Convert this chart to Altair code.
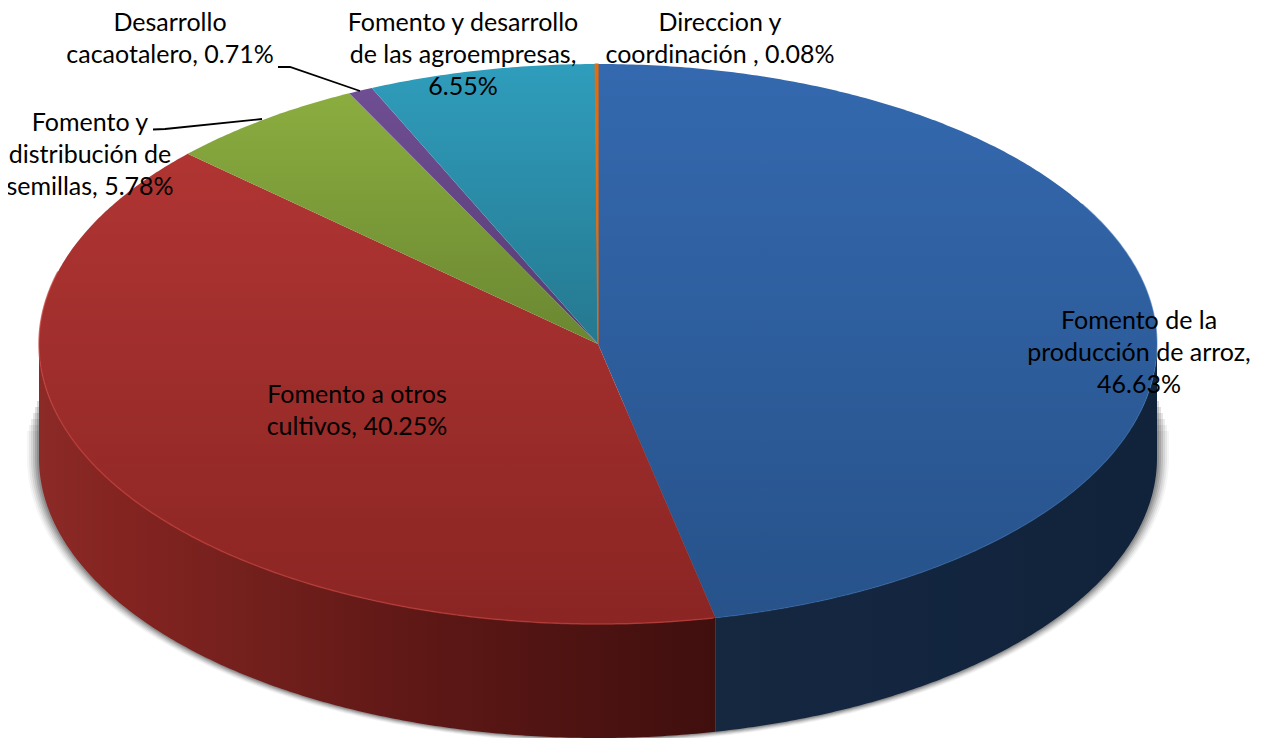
import math
import altair as alt
import pandas as pd

# ---- chart values ----
shares = [46.63, 40.25, 5.78, 0.71, 6.55, 0.08]
top_colors = [
    ("#3469AF", "#27528A"),
    ("#B03533", "#8A2523"),
    ("#8BAD3F", "#6A8731"),
    ("#6F4E93", "#553C72"),
    ("#2F9DBC", "#25788F"),
    ("#E46C0A", "#E46C0A"),
]
label_lines = [
    ["Fomento de la", "producción de arroz,", "46.63%"],
    ["Fomento a otros", "cultivos, 40.25%"],
    ["Fomento y", "distribución de", "semillas, 5.78%"],
    ["Desarrollo", "cacaotalero, 0.71%"],
    ["Fomento y desarrollo", "de las agroempresas,", "6.55%"],
    ["Direccion y", "coordinación , 0.08%"],
]
label_x = [1139, 357, 90, 170, 463, 720]
label_y = [321, 395, 123, 23, 23, 23]
leader_x = [[278, 290, 360], [153, 165, 262]]
leader_y = [[67, 67, 91], [129.5, 129, 119]]

# ---- pie geometry (3-D look: tilted ellipse with a wall) ----
CX, CY, RX, RY, DEPTH = 598, 344, 559, 280, 114


def rim(t, dy=0, rx=RX, ry=RY):
    r = math.radians(t)
    return CX + rx * math.sin(r), CY + dy - ry * math.cos(r)


def arc_pts(t0, t1, dy=0, rx=RX, ry=RY):
    n = max(2, int(abs(t1 - t0) * 2))
    return [rim(t0 + (t1 - t0) * i / n, dy, rx, ry) for i in range(n + 1)]


def frame(pts):
    return pd.DataFrame({"x": [p[0] for p in pts], "y": [p[1] for p in pts], "i": range(len(pts))})


X = alt.X("x:Q", scale=alt.Scale(domain=[8, 1256], nice=False, zero=False), axis=None)
Y = alt.Y("y:Q", scale=alt.Scale(domain=[738, 8], nice=False, zero=False), axis=None)


def poly(pts, **mark):
    mark.setdefault("strokeWidth", 0)
    return alt.Chart(frame(pts)).mark_line(interpolate="linear", **mark).encode(
        x=X, y=Y, order=alt.Order("i:Q")
    )


def vgrad(c0, c1):
    return alt.Gradient(
        gradient="linear", x1=0, y1=0, x2=0, y2=1,
        stops=[alt.GradientStop(offset=0, color=c0), alt.GradientStop(offset=1, color=c1)],
    )


def hgrad(stops):
    return alt.Gradient(
        gradient="linear", x1=0, y1=0, x2=1, y2=0,
        stops=[alt.GradientStop(offset=o, color=c) for o, c in stops],
    )


layers = []

# soft shadow behind the wall
for d, op in [(12, 0.04), (10, 0.06), (8, 0.08), (6, 0.1), (4, 0.12), (2, 0.14)]:
    rx, ry = RX + d, RY + d * 0.4
    pts = [(CX + rx, 395 + d * 3)] + arc_pts(90, 270, DEPTH, rx, ry) + [(CX - rx, 395 + d * 3)]
    pts.append(pts[0])
    layers.append(poly(pts, fill="#000000", fillOpacity=op, stroke="#000000", strokeOpacity=0))

# slice boundaries
ang = [0.0]
for s in shares:
    ang.append(ang[-1] + s * 3.6)
ang[-1] = 360.0


def wall(t0, t1):
    top = arc_pts(t0, t1)
    bot = arc_pts(t1, t0, DEPTH)
    return top + bot + [top[0]]


# walls: only the front half of the rim is visible
layers.append(poly(wall(90, ang[1]), fill=hgrad([(0, "#16283F"), (0.3, "#142640"), (1, "#10233A")])))
layers.append(poly(wall(ang[1], 270), fill=hgrad([(0, "#8B2A27"), (0.12, "#842421"), (0.3, "#74201D"),
                                                 (0.55, "#5F1816"), (1, "#3F0F0E")])))

# top faces
for k, (c0, c1) in enumerate(top_colors):
    pts = [(CX, CY)] + arc_pts(ang[k], ang[k + 1]) + [(CX, CY)]
    extra = {}
    if k == 5:
        extra = {"stroke": c0, "strokeWidth": 1.2}
    layers.append(poly(pts, fill=vgrad(c0, c1), **extra))

# rim highlights
layers.append(poly(arc_pts(ang[1] + 0.2, 285), stroke="#C23F3A", strokeWidth=1.5, strokeOpacity=0.7))
layers.append(poly(arc_pts(60, ang[1] - 0.2), stroke="#3A72B5", strokeWidth=1.2, strokeOpacity=0.5))

# leader lines
for lx, ly in zip(leader_x, leader_y):
    layers.append(poly(list(zip(lx, ly)), stroke="#000000", strokeWidth=1.8))

# labels
rows = []
for lines, x0, y0 in zip(label_lines, label_x, label_y):
    for j, line in enumerate(lines):
        rows.append({"x": x0, "y": y0 + j * 32, "t": line})
layers.append(
    alt.Chart(pd.DataFrame(rows))
    .mark_text(font="Lato", fontSize=25, color="#000000", align="center", baseline="middle")
    .encode(x=X, y=Y, text="t:N")
)

chart = (
    alt.layer(*layers)
    .properties(width=1248, height=730, padding=0, background="white",
                autosize=alt.AutoSizeParams(type="none"))
    .configure_view(stroke=None)
)
chart.save("out.html", embed_options={"renderer": "svg", "actions": False})
